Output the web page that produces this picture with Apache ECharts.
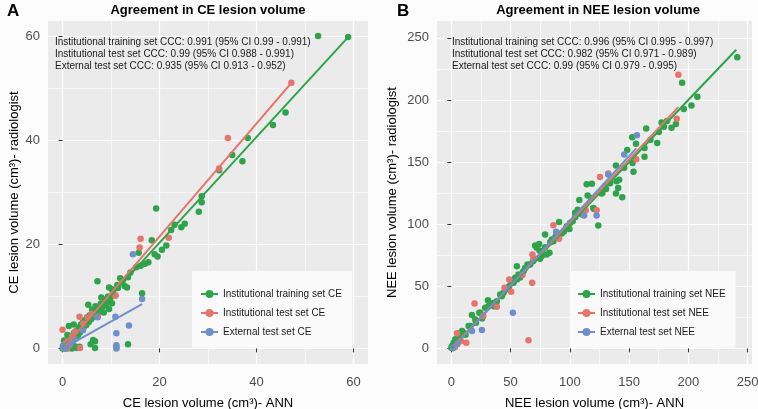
<!DOCTYPE html>
<html><head><meta charset="utf-8">
<script src="https://cdn.jsdelivr.net/npm/echarts@6/dist/echarts.min.js"></script>
<style>html,body{margin:0;padding:0;background:#fcfcfc}#c{width:758px;height:409px}</style>
</head><body><div id="c"></div><script>
// ---------- data: panel A (CE lesion volume, cm3) [ANN, radiologist] ----------
const ceTrain = [[58.9,59.9],[52.7,60.1],[46.0,45.4],[43.4,43.0],[38.2,40.5],[35.0,37.2],[37.1,36.0],[32.3,34.3],[28.7,29.3],[28.7,28.1],[28.1,26.3],[19.3,26.9],[23.1,23.8],[25.2,24.0],[24.5,23.3],[22.4,22.8],[21.4,19.8],[20.5,19.0],[18.4,20.8],[15.7,18.4],[19.0,18.1],[19.6,17.7],[17.7,16.6],[17.0,16.3],[16.1,15.9],[15.2,15.6],[14.0,14.6],[13.5,13.7],[11.9,13.5],[12.4,13.0],[12.8,12.0],[13.3,11.7],[11.4,11.6],[9.6,11.7],[10.2,11.4],[7.2,12.9],[8.0,9.8],[9.2,9.0],[10.2,8.7],[8.9,8.3],[9.6,7.6],[16.4,10.6],[5.3,8.4],[6.1,7.5],[6.8,8.1],[7.7,7.5],[8.5,6.9],[13.5,0.8],[6.7,1.4],[6.7,0.1],[5.8,0.8],[6.3,1.6],
[0,0],[0.2,0.4],[0.4,0.1],[0.5,0.8],[0.7,0.3],[0.9,1.2],[1.0,0],[1.1,0.6],[1.3,1.6],[1.4,0.2],[1.6,2.0],[1.7,1.0],[1.9,0],[2.0,2.5],[2.1,1.4],[2.3,4.6],[1.3,4.3],[2.4,3.0],[2.5,0.4],[2.7,2.0],[2.9,3.4],[3.0,0.1],[3.2,2.6],[3.4,4.0],[3.6,3.1],[3.8,4.6],[4.0,3.6],[4.2,5.0],[4.4,4.1],[4.6,5.4],[4.9,4.5],[5.1,6.0],[5.4,5.1],[5.6,6.4],[5.9,5.6],[6.2,6.9],[6.4,6.1],[6.7,7.2],[7.0,6.5],[7.3,7.8],[7.6,7.1],[7.9,8.6],[8.2,7.9],[8.7,9.4],[9.0,8.7],[9.4,10.0],[9.8,9.5],[10.4,10.8],[10.9,10.2],[11.3,12.2],[0.5,0],[2.2,0.1],[3.5,0.3],[1.0,2.6],[0.3,1.5]];
const ceTest = [[47.2,51.1],[34.1,40.5],[32.3,34.6],[21.9,21.3],[16.1,21.1],[15.9,19.4],[10.9,10.2],[3.5,6.1],[7.3,6.1],[0,3.6],[3.6,0.1],[0.3,0.2],[0.6,0.9],[1.1,1.4],[1.5,0.7],[2.0,2.4],[2.6,3.2],[4.3,4.8],[5.2,5.9],[6.0,6.6],[0.9,0],[1.8,1.6]];
const ceExt = [[14.5,18.1],[16.4,9.5],[7.2,6.0],[10.9,6.1],[13.7,4.4],[11.1,2.9],[11.1,0.6],[11.1,0.2],[11.1,0],[0.2,0.1],[0.5,0.3],[0.8,0.4],[1.2,0.9],[0.4,0],[1.8,1.2],[2.5,1.8],[4.2,3.5],[0.1,0.5]];
const ceFitTrain = [[0,0],[59,60]];
const ceFitTest = [[0.2,0],[47.2,51.1]];
const ceFitExt = [[0.3,0.1],[16.4,8.5]];

// ---------- data: panel B (NEE lesion volume, cm3) ----------
const neeTrain = [[241.3,234.5],[194.7,213.8],[207.6,202.6],[202.6,195.6],[196.1,192.7],[189.5,180.6],[185.8,177.7],[179.3,178.5],[177.4,181.9],[164.4,177.1],[175.1,174.2],[173.7,165.3],[152.6,169.9],[155.8,164.8],[163.0,161.3],[163.0,154.3],[148.4,159.7],[152.9,149.3],[153.7,142.3],[145.9,145.5],[138.9,147.3],[114.2,132.1],[118.6,132.6],[139.4,134.5],[141.6,135.8],[140.8,129.2],[138.9,124.6],[144.2,121.6],[108.0,119.5],[127.4,125.1],[130.5,128.4],[119.8,113.1],[115.0,123.0],[117.9,121.1],[126.8,124.6],[120.4,112.3],[124.0,98.9],[104.4,109.1],[106.6,111.7],[100.2,101.0],[90.9,101.8],[79.1,91.6],[84.8,87.6],[83.4,85.4],[79.1,81.4],[74.1,84.1],[70.7,82.8],[74.4,78.8],[74.9,72.1],[80.5,75.6],[76.3,74.3],[68.9,70.2],[66.5,67.5],[62.3,64.8],[60.9,62.1],[56.7,59.5],[55.3,66.2],[53.9,56.8],[50.5,52.8],[48.8,50.1],[46.0,47.4],[44.1,44.7],[42.6,42.0],[38.4,38.0],[35.6,36.6],[31.4,33.9],[30.9,38.8],[32.8,35.4],[28.6,32.7],[23.6,28.7],[17.4,26.8],[20.8,20.6],[14.6,18.0],[9.0,14.0],[6.2,12.1],[3.4,7.3],[2.0,4.6],[0,0.5],[104.6,105.8],[102.4,102.4],[99.6,96.2],[97.4,98.4],[93.1,92.5],[86.1,86.3],[82.8,76.9],[72.1,81.0],[69.9,71.6],[64.2,67.5],[60.3,60.8],[55.3,55.5],[52.5,52.8],[41.2,43.4],[24.4,28.7],[20.2,23.3],[16.0,17.9],[10.4,12.6],[7.6,9.9],[0.6,1.8],[1.0,0],[2.5,1.0],[5,3.5],[12,11],[26,24],[36,34],[58,57],[88,90],[95,94],[110,108],[130,131],[134,133],[168,168],[182,183]];
const neeTest = [[191.6,220.3],[190.2,184.9],[156.0,152.2],[125.4,138.0],[132.4,140.7],[122.6,111.2],[113.4,111.2],[86.1,99.1],[90.9,88.2],[68.5,75.6],[69.3,72.1],[68.2,52.8],[48.8,55.5],[44.9,48.8],[50.5,45.6],[38.4,33.4],[19.6,36.2],[12.6,4.6],[4.8,12.1],[65.1,6.5],[3,1],[8,6],[27,26],[60,59]];
const neeExt = [[156.6,171.5],[145.9,156.2],[132.4,140.0],[122.6,106.9],[112.0,106.9],[88.4,93.8],[51.9,28.7],[25.8,14.7],[17.4,14.0],[5,4],[1.5,0.5]];
const neeFitTrain = [[0.5,0.5],[240.4,240.4]];
const neeFitTest = [[2,2],[191.5,194.3]];
const neeFitExt = [[2,1],[156,161]];

// axis ticks
const ceMajor = [0,20,40,60], ceMinor = [10,30,50];
const neeMajor = [0,50,100,150,200,250], neeMinor = [25,75,125,175,225];
const ceLim = [-3, 63], neeXLim = [-12.1, 253.7], neeYLim = [-12.6, 263.6];

const namesA = ['Institutional training set CE','Institutional test set CE','External test set CE'];
const namesB = ['Institutional training set NEE','Institutional test set NEE','External test set NEE'];
const cccA = ['Institutional training set CCC: 0.991 (95% CI 0.99 - 0.991)','Institutional test set CCC: 0.99 (95% CI 0.988 - 0.991)','External test set CCC: 0.935 (95% CI 0.913 - 0.952)'];
const cccB = ['Institutional training set CCC: 0.996 (95% CI 0.995 - 0.997)','Institutional test set CCC: 0.982 (95% CI 0.971 - 0.989)','External test set CCC: 0.99 (95% CI 0.979 - 0.995)'];

const colors = ['#2ea44a','#e8736c','#6f8fcb'];
const FF = '"Liberation Sans", Arial, sans-serif';

function axis(grid, lim, custom, major, isX, name, gap){
  const a = {
    type:'value', gridIndex:grid, min:lim[0], max:lim[1],
    axisLine:{show:false},
    axisTick:{show:major, length:4, lineStyle:{color:'#333'}, customValues:custom},
    axisLabel:{show:major, customValues:custom, margin:isX?12:8, color:'#4d4d4d', fontSize:13, fontFamily:FF},
    splitLine:{show:true, lineStyle:{color:'#ffffff', width: major?1.2:0.6}},
    z: major?2:1
  };
  if(major){
    a.name = name; a.nameLocation='middle'; a.nameGap = gap;
    a.nameTextStyle = {color:'#000', fontSize:13, fontFamily:FF};
  }
  return a;
}

const grids = [
  {left:48, top:21, width:320, height:343, show:true, backgroundColor:'#ebebeb', borderWidth:0, containLabel:false, outerBoundsMode:'none'},
  {left:437, top:21, width:315, height:343, show:true, backgroundColor:'#ebebeb', borderWidth:0, containLabel:false, outerBoundsMode:'none'}
];
const xAxes = [
  axis(0, ceLim, ceMajor, true, true, 'CE lesion volume (cm³)- ANN', 33),
  axis(0, ceLim, ceMinor, false, true),
  axis(1, neeXLim, neeMajor, true, true, 'NEE lesion volume (cm³)- ANN', 33),
  axis(1, neeXLim, neeMinor, false, true)
];
const yAxes = [
  axis(0, ceLim, ceMajor, true, false, 'CE lesion volume (cm³)- radiologist', 27),
  axis(0, ceLim, ceMinor, false, false),
  axis(1, neeYLim, neeMajor, true, false, 'NEE lesion volume (cm³)- radiologist', 38),
  axis(1, neeYLim, neeMinor, false, false)
];

function sc(data, ci, xi){ return {type:'scatter', data:data, xAxisIndex:xi, yAxisIndex:xi, symbolSize:6.5, itemStyle:{color:colors[ci], opacity:1}, z:3, silent:true}; }
function ln(name, data, ci, xi){ return {type:'line', name:name, data:data, xAxisIndex:xi, yAxisIndex:xi, showSymbol:false, symbol:'circle', symbolSize:5, lineStyle:{color:colors[ci], width:2}, itemStyle:{color:colors[ci]}, z:4, silent:true}; }

const series = [
  sc(ceTrain,0,0), sc(ceTest,1,0), sc(ceExt,2,0),
  ln(namesA[0], ceFitTrain,0,0), ln(namesA[1], ceFitTest,1,0), ln(namesA[2], ceFitExt,2,0),
  sc(neeTrain,0,2), sc(neeTest,1,2), sc(neeExt,2,2),
  ln(namesB[0], neeFitTrain,0,2), ln(namesB[1], neeFitTest,1,2), ln(namesB[2], neeFitExt,2,2)
];

function legend(names, left, padL, padR){
  return {data:names, orient:'vertical', left:left, top:271, itemWidth:17, itemHeight:10, itemGap:9,
    padding:[18,padR,11,padL], backgroundColor:'#fafafa', selectedMode:false,
    textStyle:{fontSize:10, color:'#1a1a1a', fontFamily:FF}};
}

const graphics = [];
graphics.push({type:'text', x:7, y:11, style:{text:'A', font:'bold 17px '+FF, fill:'#000', verticalAlign:'middle'}});
graphics.push({type:'text', x:397, y:11, style:{text:'B', font:'bold 17px '+FF, fill:'#000', verticalAlign:'middle'}});
graphics.push({type:'text', x:208, y:10, style:{text:'Agreement in CE lesion volume', font:'bold 13px '+FF, fill:'#000', align:'center', verticalAlign:'middle'}});
graphics.push({type:'text', x:598, y:10, style:{text:'Agreement in NEE lesion volume', font:'bold 13px '+FF, fill:'#000', align:'center', verticalAlign:'middle'}});
cccA.forEach((s,i)=>graphics.push({type:'text', x:55, y:42+12*i, style:{text:s, font:'10px '+FF, fill:'#1a1a1a', verticalAlign:'middle'}, z:10}));
cccB.forEach((s,i)=>graphics.push({type:'text', x:452, y:42+12*i, style:{text:s, font:'10px '+FF, fill:'#1a1a1a', verticalAlign:'middle'}, z:10}));

const chart = echarts.init(document.getElementById('c'), null, {renderer:'canvas'});
chart.setOption({
  animation:false, backgroundColor:'#fcfcfc',
  grid:grids, xAxis:xAxes, yAxis:yAxes, series:series,
  legend:[legend(namesA,192,8,10), legend(namesB,570,7,10)],
  graphic:graphics
});
</script></body></html>
